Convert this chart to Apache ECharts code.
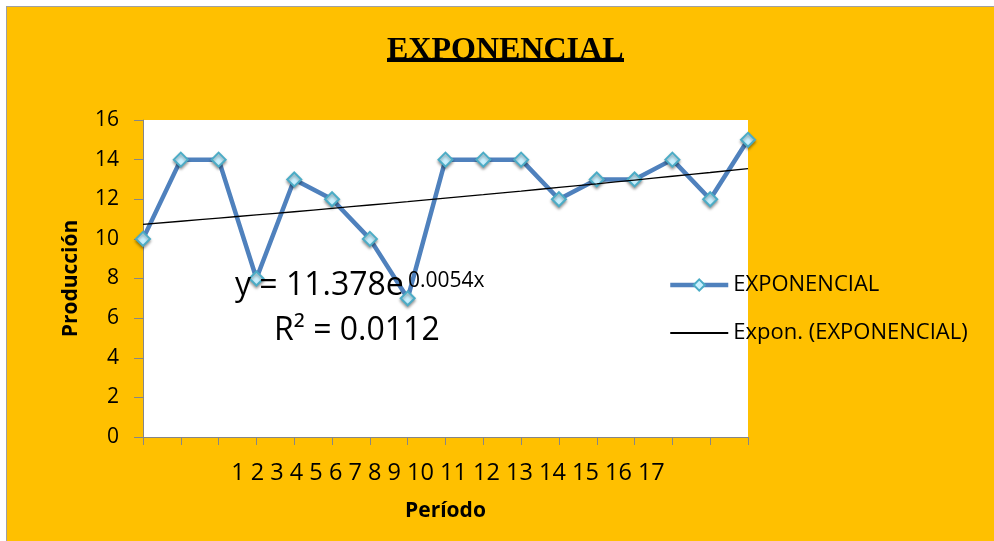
<!DOCTYPE html>
<html>
<head>
<meta charset="utf-8">
<script src="https://cdn.jsdelivr.net/npm/echarts@6/dist/echarts.min.js"></script>
<style>
  html, body { margin: 0; padding: 0; background: #ffffff; }
  #chart {
    position: absolute; left: 6px; top: 6px;
    width: 987px; height: 534px;
    background: #FFC000;
    border-left: 1px solid #A0A0A0;
    border-top: 1px solid #A0A0A0;
  }
</style>
</head>
<body>
<div id="chart"></div>
<script>
// datos
const periodos = ['1', '2', '3', '4', '5', '6', '7', '8', '9', '10', '11', '12', '13', '14', '15', '16', '17'];
const produccion = [10, 14, 14, 8, 13, 12, 10, 7, 14, 14, 14, 12, 13, 13, 14, 12, 15];
// linea de tendencia exponencial
const tendencia = [10.73, 10.89, 11.05, 11.21, 11.37, 11.54, 11.71, 11.88, 12.06, 12.23, 12.41, 12.60, 12.78, 12.97, 13.16, 13.35, 13.55];
const yTicks = { min: 0, max: 16, interval: 2 };

const FONT = '"Open Sans", "Liberation Sans", sans-serif';
const chart = echarts.init(document.getElementById('chart'));

let option = {
  animation: false,
  backgroundColor: 'transparent',
  grid: {
    left: 136, top: 113, width: 605, height: 317,
    show: true,
    backgroundColor: '#ffffff',
    borderWidth: 0
  },
  legend: {
    orient: 'vertical',
    left: 656,
    top: 260,
    itemWidth: 58,
    itemHeight: 14,
    itemGap: 22,
    textStyle: { fontFamily: FONT, fontSize: 22, color: '#000', lineHeight: 26 },
    data: [
      { name: 'EXPONENCIAL', lineStyle: { width: 4.5, color: '#4F81BD' } },
      // sin marcador en la leyenda de la tendencia
      { name: 'Expon. (EXPONENCIAL)', itemStyle: { color: 'rgba(0,0,0,0)', borderColor: 'rgba(0,0,0,0)', borderWidth: 0 } }
    ]
  },
  xAxis: {
    type: 'category',
    data: periodos,
    boundaryGap: false,
    name: 'Período',
    nameLocation: 'middle',
    nameGap: 64,
    nameTextStyle: { fontFamily: FONT, fontSize: 21, fontWeight: 'bold', color: '#000' },
    axisLine: { lineStyle: { color: '#868686', width: 1 } },
    axisTick: { show: true, length: 8, interval: 0, lineStyle: { color: '#868686' } },
    axisLabel: { show: false }
  },
  yAxis: {
    type: 'value',
    min: yTicks.min,
    max: yTicks.max,
    interval: yTicks.interval,
    name: 'Producción',
    nameLocation: 'middle',
    nameGap: 61,
    nameTextStyle: { fontFamily: FONT, fontSize: 21, fontWeight: 'bold', color: '#000' },
    axisLine: { show: true, lineStyle: { color: '#868686', width: 1 } },
    axisTick: { show: true, length: 9, lineStyle: { color: '#868686' } },
    axisLabel: { margin: 24, fontFamily: FONT, fontSize: 21, color: '#000' },
    splitLine: { show: false }
  },
  series: [
    {
      name: 'EXPONENCIAL',
      type: 'line',
      data: produccion,
      symbol: 'diamond',
      symbolSize: 14,
      lineStyle: { color: '#4F81BD', width: 4.5 },
      itemStyle: {
        color: '#C9F1FF',
        borderColor: '#4BACC6',
        borderWidth: 2,
        shadowBlur: 3,
        shadowOffsetY: 2,
        shadowColor: 'rgba(0,0,0,0.35)'
      },
      z: 2
    },
    {
      name: 'Expon. (EXPONENCIAL)',
      type: 'line',
      data: tendencia,
      symbol: 'none',
      smooth: true,
      lineStyle: { color: '#000000', width: 1.3 },
      itemStyle: { color: '#000000' },
      z: 3
    }
  ],
  graphic: [
    // titulo subrayado
    {
      type: 'text', left: 380, top: 28,
      style: { text: 'EXPONENCIAL', font: 'bold 32px "Liberation Serif", "Times New Roman", serif', fill: '#000' }
    },
    {
      type: 'rect', shape: { x: 380, y: 51, width: 237, height: 4 }, style: { fill: '#000' }
    },
    // etiquetas del eje x (en una sola linea, como en el original)
    {
      type: 'text', x: 441, y: 466,
      style: {
        text: periodos.join(' '),
        font: '23.5px ' + FONT, fill: '#000',
        align: 'center', verticalAlign: 'middle'
      }
    },
    // ecuacion de la tendencia
    {
      type: 'text', x: 228, y: 279,
      style: { text: 'y = 11.378e', font: '32px ' + FONT, fill: '#000', align: 'left', verticalAlign: 'middle' },
      z: 10
    },
    {
      type: 'text', x: 401, y: 274,
      style: { text: '0.0054x', font: '21px ' + FONT, fill: '#000', align: 'left', verticalAlign: 'middle' },
      z: 10
    },
    {
      type: 'text', x: 267, y: 324,
      style: { text: 'R² = 0.0112', font: '32px ' + FONT, fill: '#000', align: 'left', verticalAlign: 'middle' },
      z: 10
    }
  ]
};

chart.setOption(option);
window.addEventListener('resize', function () {
  chart.resize();
});
</script>
</body>
</html>
